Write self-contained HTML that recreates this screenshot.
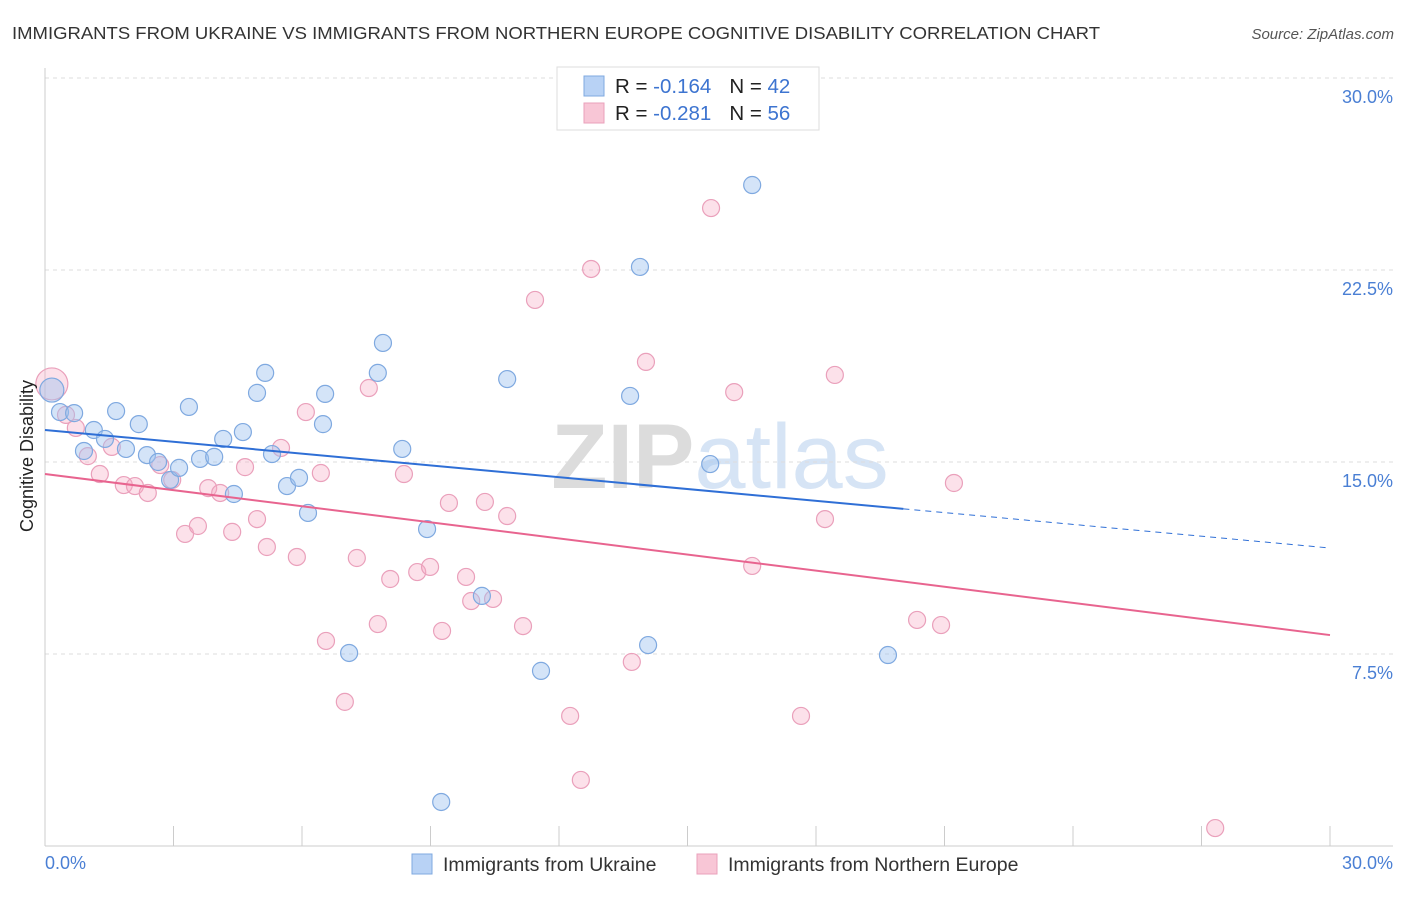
<!DOCTYPE html>
<html><head><meta charset="utf-8"><style>
body{margin:0;background:#fff;font-family:"Liberation Sans",sans-serif;}
svg text{font-family:"Liberation Sans",sans-serif;}
</style></head><body>
<svg id="chart" width="1406" height="892">
<text x="12" y="39" font-size="17.5" fill="#333" textLength="1088" lengthAdjust="spacingAndGlyphs">IMMIGRANTS FROM UKRAINE VS IMMIGRANTS FROM NORTHERN EUROPE COGNITIVE DISABILITY CORRELATION CHART</text>
<text x="1394" y="39" font-size="15" fill="#555" font-style="italic" text-anchor="end">Source: ZipAtlas.com</text>
<text x="720" y="488" font-size="92" fill="#e6e6e6" text-anchor="middle" font-weight="bold"><tspan fill="#dcdcdc">ZIP</tspan><tspan fill="#d6e4f5" font-weight="normal">atlas</tspan></text>
<g id="grid"></g>
<g id="axes"></g>
<g id="marks"></g>
<text transform="translate(33,456) rotate(-90)" font-size="18" fill="#222" text-anchor="middle">Cognitive Disability</text>
<text x="45" y="869" font-size="18" fill="#4a7fd4">0.0%</text>
<text x="1393" y="869" font-size="18" fill="#4a7fd4" text-anchor="end">30.0%</text>
<g>
<rect x="557" y="67" width="262" height="63" fill="#fff" stroke="#ddd"/>
<rect x="584" y="76" width="20" height="20" fill="#b8d2f5" stroke="#7fa9e0"/>
<rect x="584" y="103" width="20" height="20" fill="#f8c6d6" stroke="#eaa0bb"/>
<text x="615" y="93" font-size="20.5" fill="#222">R = <tspan fill="#3d74d0">-0.164</tspan><tspan dx="18">N = </tspan><tspan fill="#3d74d0">42</tspan></text>
<text x="615" y="120" font-size="20.5" fill="#222">R = <tspan fill="#3d74d0">-0.281</tspan><tspan dx="18">N = </tspan><tspan fill="#3d74d0">56</tspan></text>
</g>
<g>
<rect x="412" y="854" width="20" height="20" fill="#b8d2f5" stroke="#7fa9e0"/>
<text x="443" y="871" font-size="19.5" fill="#333">Immigrants from Ukraine</text>
<rect x="697" y="854" width="20" height="20" fill="#f8c6d6" stroke="#eaa0bb"/>
<text x="728" y="871" font-size="19.5" fill="#333">Immigrants from Northern Europe</text>
</g>
</svg>
<script>
const yTicks=[7.5,15,22.5,30];
const yTickLabels=["7.5%","15.0%","22.5%","30.0%"];
const ukraineX=[0.16,0.35,0.68,1.14,0.91,1.40,1.66,1.89,2.19,2.38,2.64,2.92,3.13,3.36,3.62,3.95,4.16,4.41,4.62,4.95,5.14,5.30,5.65,5.93,6.14,6.49,6.54,7.10,7.77,7.89,8.34,8.92,9.25,10.20,10.79,11.58,13.66,13.89,14.08,15.53,16.51,19.68];
const ukraineY=[17.81,16.95,16.91,16.25,15.43,15.90,16.99,15.51,16.48,15.27,15.0,14.30,14.77,17.15,15.12,15.20,15.90,13.75,16.17,17.70,18.48,15.31,14.06,14.38,13.01,16.48,17.66,7.54,18.48,19.65,15.51,12.38,1.72,9.77,18.24,6.84,17.58,22.62,7.85,14.92,25.82,7.46];
const northX=[0.16,0.49,0.72,1.0,1.28,1.56,1.84,2.10,2.40,2.69,2.97,3.27,3.57,3.81,4.09,4.37,4.67,4.95,5.18,5.51,5.88,6.09,6.44,6.56,7.00,7.28,7.56,7.77,8.06,8.38,8.69,8.99,9.27,9.43,9.83,9.95,10.27,10.46,10.79,11.16,11.44,12.26,12.51,12.75,13.70,14.03,15.55,16.09,16.51,17.65,18.21,18.44,20.36,20.92,21.22,27.32];
const northY=[18.05,16.84,16.33,15.23,14.53,15.59,14.10,14.06,13.79,14.88,14.30,12.19,12.5,13.98,13.79,12.27,14.80,12.77,11.68,15.55,11.29,16.95,14.57,8.01,5.63,11.25,17.89,8.67,10.43,14.53,10.70,10.90,8.40,13.40,10.51,9.57,13.44,9.65,12.89,8.59,21.33,5.08,2.58,22.54,7.19,18.91,24.92,17.73,10.94,5.08,12.77,18.40,8.83,8.63,14.18,0.70];
const ukraineTrend=[16.25,11.64];
const northTrend=[14.53,8.24];
const ukraineSolidEnd=20.04;

const NS="http://www.w3.org/2000/svg";
const X0=45,X1=1330,Y0=846,Y1=78;
function sx(v){return X0+(X1-X0)*v/30;}
function sy(v){return Y0-(Y0-Y1)*v/30;}
function mk(tag,attrs,parent){const e=document.createElementNS(NS,tag);for(const k in attrs)e.setAttribute(k,attrs[k]);parent.appendChild(e);return e;}
const grid=document.getElementById('grid'),axes=document.getElementById('axes'),marks=document.getElementById('marks');
yTicks.forEach((t,i)=>{
  const l=mk('line',{x1:45,x2:1393,y1:sy(t),y2:sy(t),stroke:'#ddd','stroke-dasharray':'4,4'},grid);
  
  
  const tx=mk('text',{x:1393,y:sy(t)+25,'font-size':18,fill:'#4a7fd4','text-anchor':'end'},grid);
  tx.textContent=yTickLabels[i];
  
  
});
let a=mk('line',{x1:45,x2:45,y1:68,y2:846,stroke:'#ccc'},axes);


a=mk('line',{x1:45,x2:1393,y1:846,y2:846,stroke:'#ccc'},axes);


for(let i=1;i<=10;i++){
  const t=mk('line',{x1:sx(i*3),x2:sx(i*3),y1:826,y2:846,stroke:'#ccc'},axes);
  
  
}
function dots(xs,ys,fill,stroke,name,bigR){
  xs.forEach((x,i)=>{
    const c=mk('circle',{cx:sx(x),cy:sy(ys[i]),r:i===0?bigR:8.5,fill:fill,stroke:stroke,'stroke-width':1.2},marks);
    
    
  });
}
dots(northX,northY,'rgba(245,170,195,0.35)','#eaa0bb','point-northern-europe',16);
dots(ukraineX,ukraineY,'rgba(160,196,240,0.45)','#7fa9e0','point-ukraine',12);
function lineAt(tr,x){return tr[0]+(tr[1]-tr[0])*x/30;}
let l=mk('line',{x1:sx(0),y1:sy(lineAt(ukraineTrend,0)),x2:sx(ukraineSolidEnd),y2:sy(lineAt(ukraineTrend,ukraineSolidEnd)),stroke:'#2f6fd6','stroke-width':2},marks);


l=mk('line',{x1:sx(ukraineSolidEnd),y1:sy(lineAt(ukraineTrend,ukraineSolidEnd)),x2:sx(30),y2:sy(lineAt(ukraineTrend,30)),stroke:'#2f6fd6','stroke-width':1,'stroke-dasharray':'6,5'},marks);


l=mk('line',{x1:sx(0),y1:sy(northTrend[0]),x2:sx(30),y2:sy(northTrend[1]),stroke:'#e8648f','stroke-width':2},marks);


</script>
</body></html>
